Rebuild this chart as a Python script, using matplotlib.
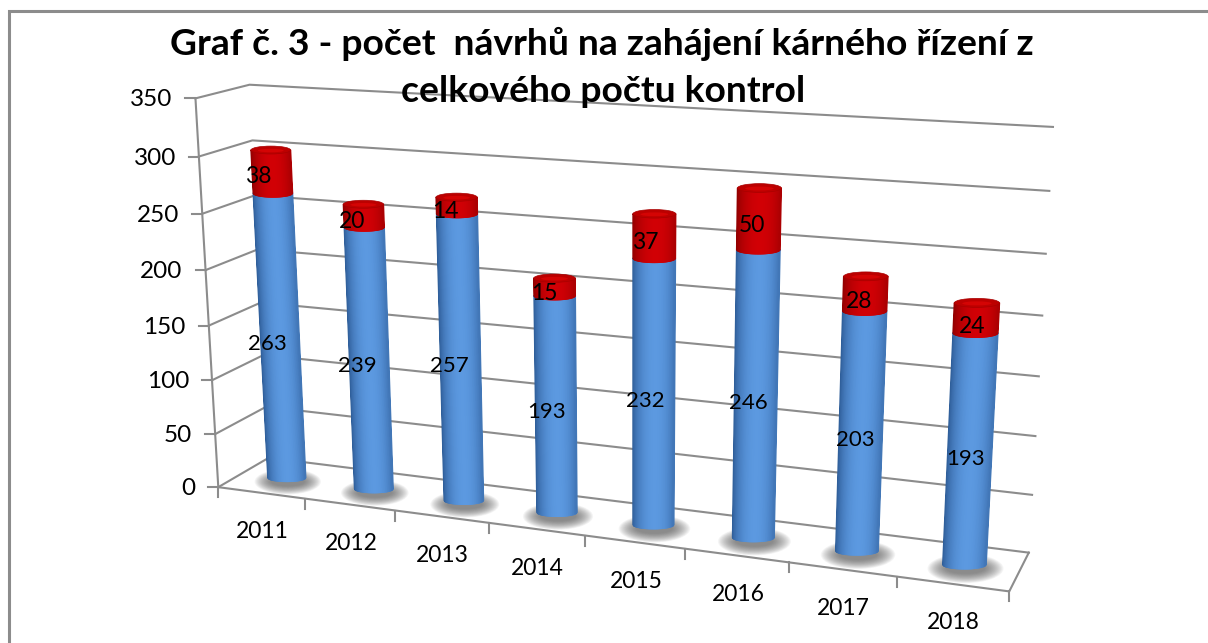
import numpy as np
import matplotlib
matplotlib.use("Agg")
import matplotlib.pyplot as plt
from matplotlib.collections import PolyCollection
from matplotlib.patches import Ellipse

years = ["2011", "2012", "2013", "2014", "2015", "2016", "2017", "2018"]
kontroly = [263, 239, 257, 193, 232, 246, 203, 193]
navrhy = [38, 20, 14, 15, 37, 50, 28, 24]
y_ticks = [0, 50, 100, 150, 200, 250, 300, 350]
title_lines = ["Graf č. 3 - počet  návrhů na zahájení kárného řízení z", "celkového počtu kontrol"]

W, H = 1208, 643
YMAX = y_ticks[-1]
GRID = "#8c8c8c"

# rohy krabice v pixelech: (pozice 0-1, hodnota 0-1, hloubka 0-1) -> (x, y)
box = [
    ((0, 0, 0), (218, 487)), ((0, 1, 0), (196, 98)),
    ((0, 0, 1), (269, 458)), ((0, 1, 1), (249, 85)),
    ((1, 0, 1), (1029, 552)), ((1, 1, 1), (1053, 127)),
    ((1, 0, 0), (1009, 592)),
]
A, b = [], []
for (p, v, d), (x, y) in box:
    A.append([p, v, d, 1, 0, 0, 0, 0, -x * p, -x * v, -x * d])
    b.append(x)
    A.append([0, 0, 0, 0, p, v, d, 1, -y * p, -y * v, -y * d])
    b.append(y)
m = np.linalg.lstsq(np.array(A, float), np.array(b, float), rcond=None)[0]
P = np.append(m, 1).reshape(3, 4)


def proj(pos, val, depth):
    q = P @ np.array([pos, val / YMAX, depth, 1.0])
    return q[0] / q[2], q[1] / q[2]


plt.rcParams["font.family"] = ["Lato", "DejaVu Sans"]
fig = plt.figure(figsize=(W / 100, H / 100), dpi=100)
ax = fig.add_axes([0, 0, 1, 1])
ax.set_xlim(0, W)
ax.set_ylim(H, 0)
ax.axis("off")

# ramecek grafu
ax.plot([9, 9, W], [H, 11, 11], color="#8c8c8c", lw=2.2, solid_joinstyle="miter")

# mrizka a osy
for t in y_ticks:
    fl, bl, br = proj(0, t, 0), proj(0, t, 1), proj(1, t, 1)
    ax.plot([fl[0], bl[0], br[0]], [fl[1], bl[1], br[1]], color=GRID, lw=1.5)
    ax.plot([fl[0] - 10, fl[0]], [fl[1], fl[1]], color=GRID, lw=1.5)
    ax.text(fl[0] - 23, fl[1] + 1.5, str(t), ha="right", va="center", fontsize=17.5, color="black")
left = [proj(0, 0, 0), proj(0, YMAX, 0)]
ax.plot([left[0][0], left[1][0]], [left[0][1], left[1][1]], color=GRID, lw=1.5)
floor = [proj(0, 0, 0), proj(1, 0, 0), proj(1, 0, 1)]
ax.plot([c[0] for c in floor], [c[1] for c in floor], color=GRID, lw=1.5)

n = len(years)
for i in range(n + 1):
    x, y = proj(i / n, 0, 0)
    ax.plot([x, x], [y, y + 10], color=GRID, lw=1.5)
for i, year in enumerate(years):
    x, y = proj((i + 0.5) / n, 0, 0)
    ax.text(x + 1, y + 39, year, ha="center", va="center", fontsize=16.5, color="black")

DEPTH = 0.5
RX = 0.0278
SHIFT = 0.0005


def radius(pos, val):
    # sloupce se doprava rozsiruji mene, nez dava projekce
    c = proj(pos, val, DEPTH)[0]
    return (proj(pos + RX, val, DEPTH)[0] - c) * (1 - 0.12 * pos)


# stiny pod sloupci
for i in range(n):
    pos = (i + 0.5) / n + SHIFT
    cx, cy = proj(pos, 0, DEPTH)
    r = radius(pos, 0)
    for k in np.linspace(1, 0, 18):
        ax.add_patch(Ellipse((cx + r * 0.05, cy + 4), 2 * r * (0.9 + 0.85 * k), 2 * r * (0.25 + 0.42 * k),
                             fc="#5a5a5a", ec="none", alpha=0.06))


def shade(t, dark, light):
    # t = -1 levy okraj, +1 pravy okraj
    f = np.clip(1 - ((t - 0.1) / 1.1) ** 2, 0, 1) ** 0.75
    return np.array(dark) + (np.array(light) - np.array(dark)) * f


def arc(t, c, r):
    return c[0] + r * t, c[1] + 0.2 * r * np.sqrt(1 - t * t)


def cylinder(pos, v0, v1, dark, light):
    c0 = np.array(proj(pos, v0, DEPTH))
    c1 = np.array(proj(pos, v1, DEPTH))
    r0 = radius(pos, v0)
    r1 = radius(pos, v1)
    ts = np.linspace(-1, 1, 61)
    polys, cols = [], []
    for a, b in zip(ts[:-1], ts[1:]):
        polys.append([arc(a, c0, r0), arc(b, c0, r0), arc(b, c1, r1), arc(a, c1, r1)])
        cols.append(shade((a + b) / 2, dark, light))
    ax.add_collection(PolyCollection(polys, facecolors=cols, edgecolors=cols, linewidths=1.0, zorder=3))
    return c1, r1


for i in range(n):
    pos = (i + 0.5) / n + SHIFT
    cylinder(pos, 0, kontroly[i], (0.17, 0.35, 0.58), (0.36, 0.60, 0.88))
    c1, r1 = cylinder(pos, kontroly[i], kontroly[i] + navrhy[i], (0.55, 0.0, 0.0), (0.82, 0.0, 0.02))
    ax.add_patch(Ellipse(c1, 2 * r1, 2 * r1 * 0.2, fc="#bc0000", ec="#a80000", lw=0.5, zorder=4))
    ax.add_patch(Ellipse((c1[0], c1[1] + 0.5), 1.3 * r1, 0.18 * r1, fc="#d40404", ec="none", zorder=4))

# popisky hodnot
LABEL_DEPTH = 0.2
for i in range(n):
    pos = (i + 0.5) / n
    x, y = proj(pos, kontroly[i] / 2, LABEL_DEPTH)
    ax.text(x + 3, y - 2, str(kontroly[i]), ha="center", va="center", fontsize=16, color="black", zorder=5)
    x, y = proj(pos, kontroly[i] + navrhy[i] / 2, LABEL_DEPTH)
    ax.text(x + 3, y, str(navrhy[i]), ha="center", va="center", fontsize=16.5, color="black", zorder=5)

ax.text(602, 44, title_lines[0], ha="center", va="center", fontsize=26.8, fontweight="bold", color="black", zorder=6)
ax.text(603, 91, title_lines[1], ha="center", va="center", fontsize=26.8, fontweight="bold", color="black", zorder=6)

fig.savefig("out.png", dpi=100)
